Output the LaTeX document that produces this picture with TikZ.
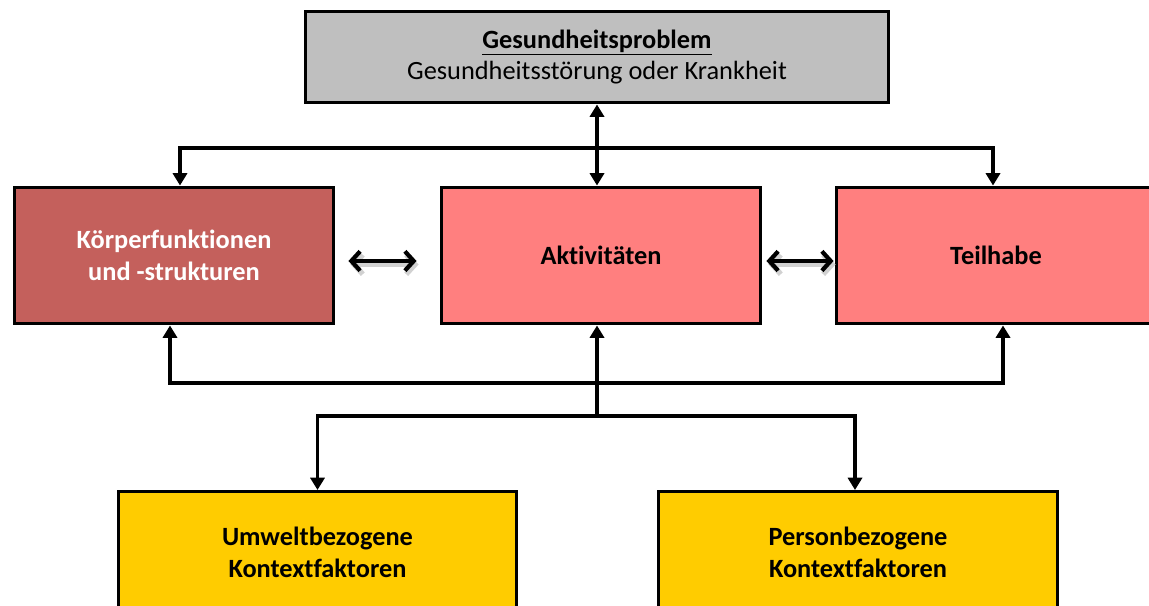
\documentclass[tikz,border=0pt]{standalone}
\usepackage{fontspec}
\setmainfont{Carlito}[Ligatures=NoCommon]
\usetikzlibrary{arrows.meta}

\definecolor{problemgrau}{HTML}{BFBFBF}
\definecolor{koerperrot}{HTML}{C4605C}
\definecolor{aktivrosa}{HTML}{FF7F7F}
\definecolor{kontextgelb}{HTML}{FFCC00}

\tikzset{
  box/.style={draw=black, line width=1.7pt, align=center, font=\bfseries\fontsize{15}{18}\selectfont,
    minimum width=6.4cm, minimum height=2.74cm, inner sep=0pt},
  pfeil/.style={line width=2pt, -{Triangle[width=8pt,length=7pt]}},
  wechsel/.style={line width=2.4pt, {Straight Barb[width=11pt,length=5pt]}-{Straight Barb[width=11pt,length=5pt]}},
}

\begin{document}
\begin{tikzpicture}[x=0.02cm, y=-0.02cm]
			%%%%% START %%%%%
			\useasboundingbox (0,0) rectangle (1149,605);
			\clip (0,0) rectangle (1149,605);

			\node[box, fill=problemgrau, minimum width=11.68cm, minimum height=1.84cm, font=\fontsize{15}{18}\selectfont] (problem) at (597,57)
				{\textbf{\underline{Gesundheitsproblem}}\\Gesundheitsstörung oder Krankheit};

			\node[box, fill=koerperrot, text=white] (koerper) at (174,255.5) {Körperfunktionen\\und -strukturen};
			\node[box, fill=aktivrosa] (aktiv) at (601,255.5) {Aktivitäten};
			\node[box, fill=aktivrosa] (teilhabe) at (996,255.5) {Teilhabe};

			\node[box, fill=kontextgelb, minimum width=7.98cm, minimum height=2.44cm, anchor=north] (umwelt) at (317.5,490) {Umweltbezogene\\ Kontextfaktoren};
			\node[box, fill=kontextgelb, minimum width=7.98cm, minimum height=2.44cm, anchor=north] (person) at (858,490) {Personbezogene\\Kontextfaktoren};

			\coordinate (oben) at (597,148);
			\coordinate (unten) at (597,383);
			\coordinate (teiler) at (597,416);

			% Gesundheitsproblem <-> Aktivitaeten
			\draw[pfeil, {Triangle[width=8pt,length=7pt]}-{Triangle[width=8pt,length=7pt]}] (problem.south -| oben) -- (oben |- aktiv.north);
			\draw[pfeil] (oben) -| ([xshift=0.12cm]koerper.north);
			\draw[pfeil] (oben) -| ([xshift=-0.06cm]teilhabe.north);

			% Wechselwirkungen
			\foreach \a/\b/\l/\r in {koerper/aktiv/0.26/0.46, aktiv/teilhabe/0.08/0.02}{
				\draw[wechsel, black!18, line width=3pt, shorten <=\l cm, shorten >=\r cm] ([shift={(2,9)}]\a.east) -- ([shift={(2,9)}]\b.west);
				\draw[wechsel, shorten <=\l cm, shorten >=\r cm] ([shift={(0,5.5)}]\a.east) -- ([shift={(0,5.5)}]\b.west);
			}

			% Kontextfaktoren
			\draw[pfeil] (teiler) -- (teiler |- aktiv.south);
			\draw[pfeil] (unten) -| ([xshift=-0.08cm]koerper.south);
			\draw[pfeil] (unten) -| ([xshift=0.14cm]teilhabe.south);
			\draw[pfeil] (teiler) -| (umwelt.north);
			\draw[pfeil] (teiler) -| ([xshift=-0.06cm]person.north);

			%%%%% END %%%%%
\end{tikzpicture}
\end{document}
